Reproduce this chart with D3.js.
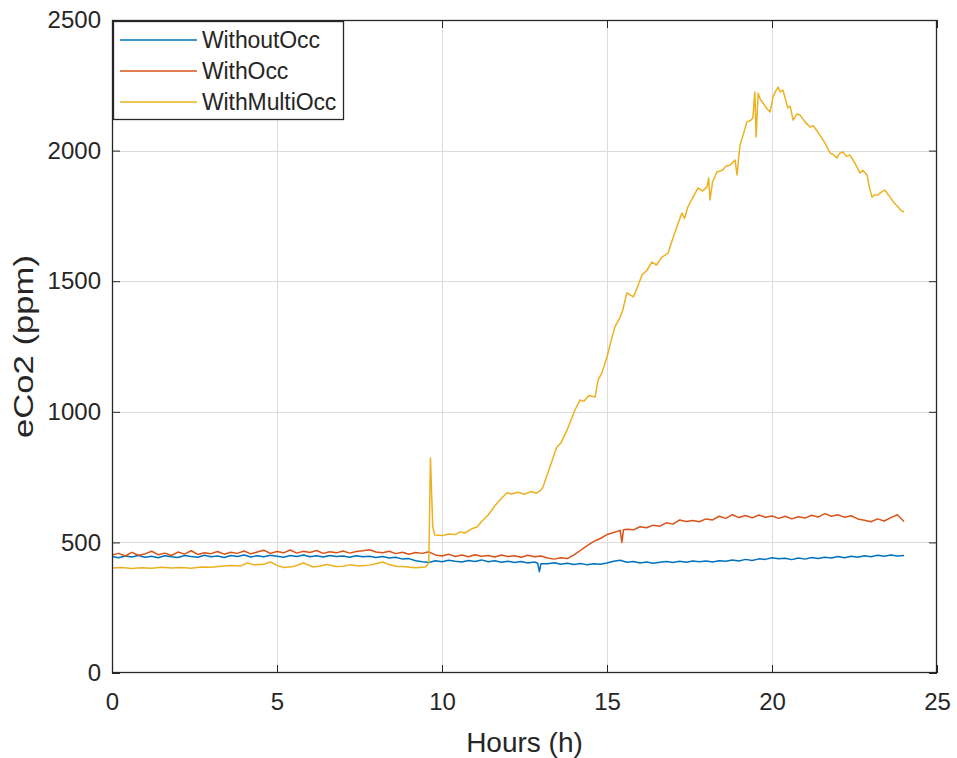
<!DOCTYPE html>
<html>
<head>
<meta charset="utf-8">
<script src="https://cdn.jsdelivr.net/npm/d3@7"></script>
<style>
  html, body { margin: 0; padding: 0; background: #fff; }
  svg { display: block; font-family: "Liberation Sans", Arial, sans-serif; }
</style>
</head>
<body>
<svg id="chart" width="957" height="758"></svg>
<script>
// eCO2 readings over one day, [hour, ppm]
const withoutOcc = [
  [0,446],[0.2,441],[0.4,448],[0.6,444],[0.8,450],[1,443],[1.2,447],[1.4,441],[1.6,449],[1.8,445],
  [2,442],[2.2,450],[2.4,446],[2.6,443],[2.8,451],[3,445],[3.2,448],[3.4,442],[3.6,450],[3.8,446],
  [4,452],[4.2,444],[4.4,449],[4.6,445],[4.8,451],[5,447],[5.2,443],[5.4,450],[5.6,446],[5.8,452],
  [6,445],[6.2,449],[6.4,444],[6.6,450],[6.8,446],[7,448],[7.2,443],[7.4,449],[7.6,445],[7.8,447],
  [8,442],[8.2,446],[8.4,440],[8.6,443],[8.8,436],[9,438],[9.2,430],[9.4,426],[9.6,423],[9.8,430],
  [10,426],[10.2,432],[10.4,428],[10.6,425],[10.8,431],[11,427],[11.2,433],[11.4,426],[11.6,430],[11.8,424],
  [12,428],[12.2,423],[12.4,427],[12.6,421],[12.8,425],[12.9,420],[12.95,388],[13.0,418],[13.2,418],[13.4,422],
  [13.6,416],[13.8,420],[14,415],[14.2,419],[14.4,414],[14.6,418],[14.8,416],[15,421],[15.2,428],[15.4,432],
  [15.6,424],[15.8,427],[16,421],[16.2,425],[16.4,420],[16.6,424],[16.8,427],[17,423],[17.2,428],[17.4,424],
  [17.6,429],[17.8,426],[18,429],[18.2,425],[18.4,430],[18.6,428],[18.8,433],[19,429],[19.2,435],[19.4,431],
  [19.6,437],[19.8,435],[20,441],[20.2,437],[20.4,439],[20.6,434],[20.8,440],[21,436],[21.2,442],[21.4,438],
  [21.6,443],[21.8,440],[22,446],[22.2,441],[22.4,447],[22.6,443],[22.8,449],[23,445],[23.2,451],[23.4,447],
  [23.6,452],[23.8,448],[24,450]
];

const withOcc = [
  [0,452],[0.2,458],[0.4,448],[0.6,462],[0.8,451],[1,456],[1.2,466],[1.4,453],[1.6,459],[1.8,450],
  [2,463],[2.2,455],[2.4,468],[2.6,454],[2.8,460],[3,457],[3.2,465],[3.4,455],[3.6,462],[3.8,458],
  [4,467],[4.2,456],[4.4,463],[4.6,470],[4.8,458],[5,465],[5.2,460],[5.4,471],[5.6,459],[5.8,466],
  [6,461],[6.2,469],[6.4,458],[6.6,464],[6.8,460],[7,467],[7.2,459],[7.4,465],[7.6,468],[7.8,472],
  [8,463],[8.2,460],[8.4,466],[8.6,457],[8.8,462],[9,455],[9.2,461],[9.4,458],[9.6,464],[9.8,452],
  [10,448],[10.2,455],[10.4,446],[10.6,452],[10.8,445],[11,453],[11.2,447],[11.4,450],[11.6,444],[11.8,452],
  [12,446],[12.2,449],[12.4,443],[12.6,451],[12.8,445],[13,448],[13.2,440],[13.4,436],[13.6,441],[13.8,438],
  [14,452],[14.2,470],[14.4,488],[14.6,504],[14.8,515],[15,530],[15.2,538],[15.4,546],[15.45,500],[15.5,548],
  [15.6,550],[15.8,548],[16,560],[16.2,556],[16.4,566],[16.6,562],[16.8,575],[17,570],[17.2,586],[17.4,580],
  [17.6,584],[17.8,579],[18,590],[18.2,586],[18.4,600],[18.6,592],[18.8,606],[19,595],[19.2,603],[19.4,594],
  [19.6,605],[19.8,596],[20,601],[20.2,592],[20.4,600],[20.6,590],[20.8,598],[21,593],[21.2,604],[21.4,597],
  [21.6,610],[21.8,600],[22,606],[22.2,596],[22.4,602],[22.6,590],[22.8,585],[23,579],[23.2,590],[23.4,582],
  [23.6,595],[23.8,606],[24,580]
];

const withMultiOcc = [
  [0,402],[0.3,404],[0.6,400],[0.9,403],[1.2,401],[1.5,405],[1.8,402],[2.1,404],[2.4,401],[2.7,406],
  [3,405],[3.3,409],[3.6,412],[3.9,410],[4.1,421],[4.3,414],[4.6,416],[4.8,425],[5,412],[5.2,404],
  [5.5,408],[5.8,421],[6.1,406],[6.3,410],[6.5,415],[6.8,408],[7,409],[7.2,414],[7.5,410],[7.8,413],
  [8,418],[8.2,425],[8.4,415],[8.6,409],[8.9,407],[9.2,403],[9.5,406],[9.6,420],[9.65,823],[9.72,560],
  [9.78,528],[10,526],[10.2,532],[10.4,530],[10.55,540],[10.7,536],[10.9,552],[11.06,559],[11.2,580],[11.4,605],
  [11.6,640],[11.8,668],[11.97,690],[12.1,685],[12.3,692],[12.5,684],[12.7,695],[12.85,688],[13,700],[13.06,712],
  [13.27,789],[13.48,865],[13.6,880],[13.79,930],[13.9,965],[14.03,1007],[14.18,1045],[14.3,1040],[14.45,1062],[14.64,1057],
  [14.73,1122],[14.85,1150],[15,1210],[15.12,1270],[15.24,1325],[15.39,1360],[15.48,1390],[15.6,1455],[15.7,1448],[15.8,1440],
  [15.9,1470],[16.06,1524],[16.2,1540],[16.36,1573],[16.5,1562],[16.65,1590],[16.85,1608],[17,1665],[17.15,1720],[17.27,1761],
  [17.35,1740],[17.45,1784],[17.6,1820],[17.76,1857],[17.9,1845],[18.03,1861],[18.08,1895],[18.12,1811],[18.2,1880],[18.33,1918],
  [18.5,1925],[18.6,1940],[18.73,1945],[18.88,1964],[18.94,1907],[19.03,2021],[19.15,2070],[19.24,2110],[19.35,2115],[19.42,2125],
  [19.48,2224],[19.52,2052],[19.58,2220],[19.65,2195],[19.73,2182],[19.85,2160],[19.94,2148],[20.03,2205],[20.1,2225],[20.18,2243],
  [20.25,2225],[20.33,2232],[20.4,2200],[20.48,2163],[20.55,2170],[20.64,2117],[20.75,2140],[20.85,2136],[21,2110],[21.15,2090],
  [21.25,2095],[21.39,2071],[21.5,2050],[21.6,2030],[21.76,1991],[21.85,1985],[21.97,1972],[22.05,1990],[22.15,1995],[22.25,1978],
  [22.36,1983],[22.5,1955],[22.67,1914],[22.75,1925],[22.88,1907],[22.95,1860],[23.03,1822],[23.1,1830],[23.21,1830],[23.3,1840],
  [23.42,1849],[23.5,1835],[23.58,1822],[23.7,1800],[23.82,1784],[23.92,1770],[24,1765]
];

const seriesNames = ["WithoutOcc", "WithOcc", "WithMultiOcc"];
const seriesColors = ["#0072BD", "#D95319", "#EDB120"];
const xTicks = [0, 5, 10, 15, 20, 25];
const yTicks = [0, 500, 1000, 1500, 2000, 2500];

const seriesData = [withoutOcc, withOcc, withMultiOcc];

const margin = { left: 112, right: 20, top: 20, bottom: 85 };
const W = 957, H = 758;
const svg = d3.select("#chart");

const x = d3.scaleLinear().domain([0, 25]).range([margin.left, W - margin.right]);
const y = d3.scaleLinear().domain([0, 2500]).range([H - margin.bottom, margin.top]);

const x0 = x.range()[0], x1 = x.range()[1];
const y0 = y.range()[0], y1 = y.range()[1];

// grid
const grid = svg.append("g").attr("stroke", "#dcdcdc").attr("stroke-width", 1);
grid.selectAll(".gx").data(xTicks.slice(1, -1)).join("line")
  .attr("x1", d => Math.round(x(d)) + 0.5).attr("x2", d => Math.round(x(d)) + 0.5)
  .attr("y1", y1).attr("y2", y0);
grid.selectAll(".gy").data(yTicks.slice(1, -1)).join("line")
  .attr("y1", d => Math.round(y(d)) + 0.5).attr("y2", d => Math.round(y(d)) + 0.5)
  .attr("x1", x0).attr("x2", x1);

// series lines
const line = d3.line().x(d => x(d[0])).y(d => y(d[1]));
const clipId = "plotClip";
svg.append("clipPath").attr("id", clipId).append("rect")
  .attr("x", x0).attr("y", y1).attr("width", x1 - x0).attr("height", y0 - y1);
svg.append("g").attr("clip-path", `url(#${clipId})`)
  .selectAll("path").data(seriesData).join("path")
  .attr("d", line)
  .attr("fill", "none")
  .attr("stroke", (d, i) => seriesColors[i])
  .attr("stroke-width", 1.5)
  .attr("stroke-linejoin", "round");

// axes (ticks pointing inward, mirrored on top/right)
const tickLen = 8;
const axisColor = "#262626";
const fontSize = 24;
const fmt = d3.format("d");

const xAxis = d3.axisBottom(x).tickValues(xTicks).tickFormat(fmt).tickSize(-tickLen).tickPadding(20);
const yAxis = d3.axisLeft(y).tickValues(yTicks).tickFormat(fmt).tickSize(-tickLen).tickPadding(11);
const xAxisTop = d3.axisTop(x).tickValues(xTicks).tickSize(-tickLen).tickFormat("");
const yAxisRight = d3.axisRight(y).tickValues(yTicks).tickSize(-tickLen).tickFormat("");

function styleAxis(g) {
  g.select(".domain").remove();
  g.selectAll("line").attr("stroke", axisColor);
  g.selectAll("text").attr("fill", axisColor).attr("font-size", fontSize)
    .attr("font-family", "'Liberation Sans', Arial, sans-serif");
}

svg.append("g").attr("transform", `translate(0,${y0})`).call(xAxis).call(styleAxis);
svg.append("g").attr("transform", `translate(${x0},0)`).call(yAxis).call(styleAxis);
svg.append("g").attr("transform", `translate(0,${y1})`).call(xAxisTop).call(styleAxis);
svg.append("g").attr("transform", `translate(${x1},0)`).call(yAxisRight).call(styleAxis);

// frame
svg.append("rect").attr("x", x0 + 0.5).attr("y", y1 + 0.5)
  .attr("width", x1 - x0 - 1).attr("height", y0 - y1 - 1)
  .attr("fill", "none").attr("stroke", axisColor).attr("stroke-width", 1.3);

// axis titles
svg.append("text").attr("x", (x0 + x1) / 2).attr("y", 752)
  .attr("text-anchor", "middle").attr("font-size", 28).attr("fill", axisColor)
  .text("Hours (h)");
svg.append("text")
  .attr("transform", `translate(33,${(y0 + y1) / 2}) rotate(-90)`)
  .attr("text-anchor", "middle").attr("font-size", 27).attr("fill", axisColor)
  .attr("textLength", 183).attr("lengthAdjust", "spacingAndGlyphs")
  .text("eCo2 (ppm)");

// legend
const lg = svg.append("g").attr("transform", `translate(${x0 + 1},${y1 + 1})`);
lg.append("rect").attr("x", 0.5).attr("y", 0.5).attr("width", 230).attr("height", 98)
  .attr("fill", "#fff").attr("stroke", axisColor).attr("stroke-width", 1.3);
const rows = lg.selectAll(".row").data(seriesNames).join("g")
  .attr("transform", (d, i) => `translate(0,${19 + i * 31})`);
rows.append("line").attr("x1", 7).attr("x2", 84).attr("y1", 0).attr("y2", 0)
  .attr("stroke", (d, i) => seriesColors[i]).attr("stroke-width", 1.5);
rows.append("text").attr("x", 89).attr("y", 8).attr("font-size", 23)
  .attr("letter-spacing", -0.1).attr("fill", axisColor).text(d => d);
</script>
</body>
</html>
